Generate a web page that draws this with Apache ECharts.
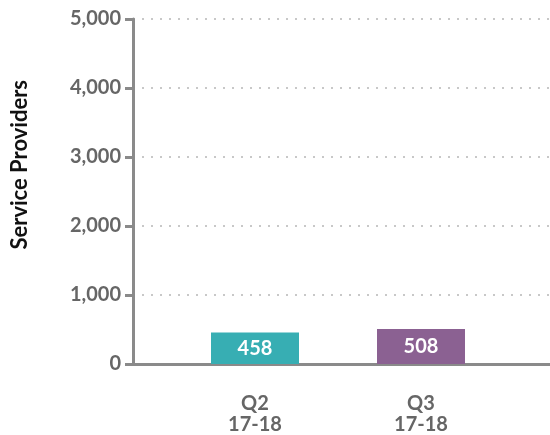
<!DOCTYPE html>
<html>
<head>
<meta charset="utf-8">
<script src="https://cdn.jsdelivr.net/npm/echarts@6/dist/echarts.min.js"></script>
<style>
  html, body { margin: 0; padding: 0; background: #fff; }
  #chart { width: 550px; height: 435px; }
</style>
</head>
<body>
<div id="chart"></div>
<script>
const categories = ['Q2\n17-18', 'Q3\n17-18'];
const providers = [458, 508];
const barColors = ['#37aeb3', '#8b6192'];
const yTitle = 'Service Providers';

const font = 'Lato, "Open Sans", sans-serif';
const chart = echarts.init(document.getElementById('chart'), null, { renderer: 'canvas' });

chart.setOption({
  animation: false,
  grid: [
    { left: 133, right: 0, top: 19, bottom: 71 },     // axes + gridlines
    { left: 172, right: 46, top: 19, bottom: 71 }     // bars
  ],
  xAxis: [
    {
      gridIndex: 0,
      type: 'category',
      data: [''],
      axisLine: { lineStyle: { color: '#8a8a8a', width: 3 } },
      axisTick: { show: false },
      axisLabel: { show: false }
    },
    {
      gridIndex: 1,
      type: 'category',
      data: categories,
      axisLine: { show: false },
      axisTick: { show: false },
      axisLabel: {
        margin: 29,
        color: '#666',
        fontFamily: font,
        fontWeight: 'bold',
        fontSize: 20,
        lineHeight: 21
      }
    }
  ],
  yAxis: [
    {
      gridIndex: 0,
      type: 'value',
      min: 0,
      max: 5000,
      interval: 1000,
      axisLine: { show: true, lineStyle: { color: '#8a8a8a', width: 3 } },
      axisTick: { show: true, length: 8, lineStyle: { color: '#8a8a8a', width: 3 } },
      axisLabel: {
        margin: 12,
        color: '#666',
        fontFamily: font,
        fontWeight: 'bold',
        fontSize: 20,
        formatter: v => v.toLocaleString('en-US')
      },
      splitLine: { show: true, lineStyle: { color: '#c8c8c8', width: 2, type: [2, 7] } }
    },
    {
      gridIndex: 1,
      type: 'value',
      min: 0,
      max: 5000,
      show: false
    }
  ],
  graphic: [{
    type: 'text',
    left: 9,
    top: 80,
    rotation: Math.PI / 2,
    style: {
      text: yTitle,
      fill: '#111',
      font: 'bold 22px ' + font
    }
  }],
  series: [{
    type: 'bar',
    xAxisIndex: 1,
    yAxisIndex: 1,
    barWidth: 88,
    data: providers.map((v, i) => ({ value: v, itemStyle: { color: barColors[i] } })),
    label: {
      show: true,
      position: 'inside',
      color: '#fff',
      fontFamily: font,
      fontWeight: 'bold',
      fontSize: 20
    }
  }]
});
</script>
</body>
</html>
